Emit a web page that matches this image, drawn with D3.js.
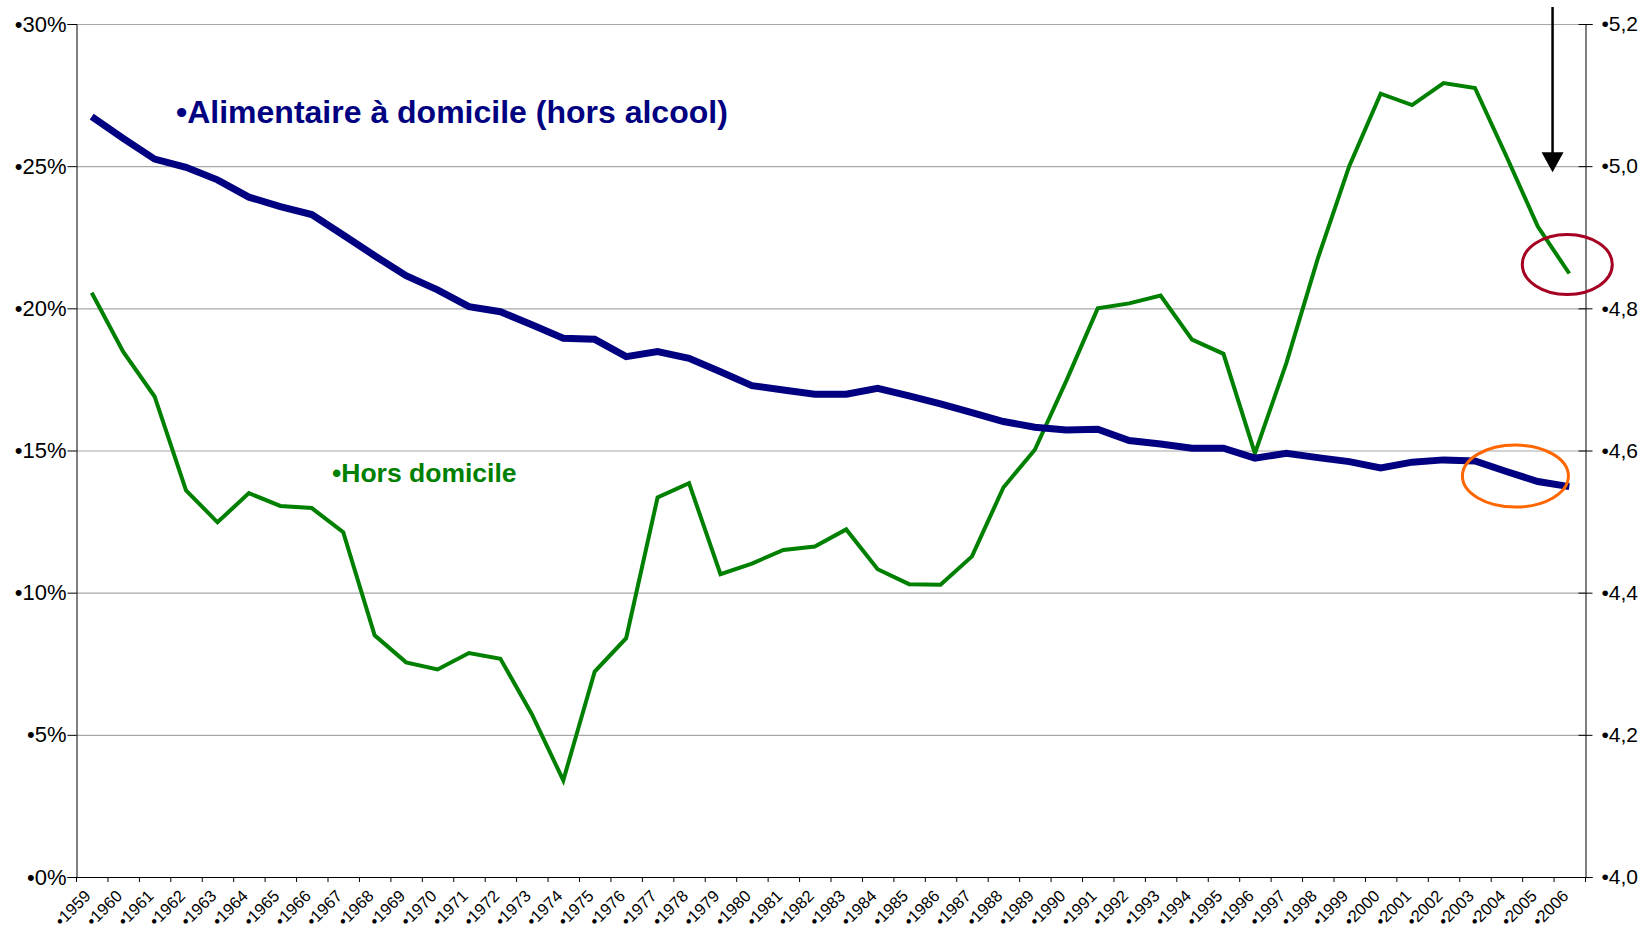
<!DOCTYPE html>
<html>
<head>
<meta charset="utf-8">
<script src="https://cdn.jsdelivr.net/npm/d3@7"></script>
<style>
    body { margin: 0; background: #fff; }
    text { font-family: "Liberation Sans", Arial, sans-serif; }
</style>
</head>
<body>
<div id="chart"></div>
<script>
// years on the x axis
const years = d3.range(1959, 2007).map(String);

// Alimentaire à domicile (hors alcool), % - left axis
const domicile = [
    26.74, 25.98, 25.25, 24.96, 24.52, 23.91, 23.58, 23.30, 22.58, 21.85,
    21.15, 20.65, 20.06, 19.88, 19.42, 18.95, 18.91, 18.30, 18.48, 18.24,
    17.77, 17.28, 17.13, 16.98, 16.98, 17.19, 16.92, 16.64, 16.33, 16.02,
    15.82, 15.72, 15.75, 15.35, 15.23, 15.08, 15.08, 14.73, 14.90, 14.75,
    14.61, 14.39, 14.59, 14.67, 14.63, 14.26, 13.91, 13.73
];

// Hors domicile - right axis
const horsDomicile = [
    4.822, 4.739, 4.676, 4.544, 4.499, 4.540, 4.522, 4.519, 4.485, 4.340,
    4.302, 4.292, 4.315, 4.307, 4.229, 4.136, 4.289, 4.336, 4.534, 4.554,
    4.426, 4.441, 4.460, 4.465, 4.489, 4.433, 4.412, 4.411, 4.451, 4.548,
    4.601, 4.698, 4.800, 4.807, 4.818, 4.756, 4.736, 4.596, 4.723, 4.870,
    5.000, 5.102, 5.086, 5.117, 5.110, 5.014, 4.915, 4.849
];

const leftTicks = [0, 5, 10, 15, 20, 25, 30];
const rightTicks = [4.0, 4.2, 4.4, 4.6, 4.8, 5.0, 5.2];

const width = 1646,
    height = 931,
    plotLeft = 76,
    plotRight = 1585,
    plotTop = 24,
    plotBottom = 877;

const svg = d3.select("#chart").append("svg")
    .attr("width", width)
    .attr("height", height);

const x = d3.scaleBand().domain(years).range([plotLeft, plotRight]);
const yL = d3.scaleLinear().domain([0, 30]).range([plotBottom, plotTop]);
const yR = d3.scaleLinear().domain([4.0, 5.2]).range([plotBottom, plotTop]);
const cx = d => x(d) + x.bandwidth() / 2;

// gridlines
svg.append("g")
    .selectAll("line")
    .data(leftTicks.filter(t => t > 0))
    .enter()
    .append("line")
    .attr("x1", plotLeft)
    .attr("x2", plotRight)
    .attr("y1", d => yL(d) + 0.5)
    .attr("y2", d => yL(d) + 0.5)
    .attr("stroke", "#a8a8a8")
    .attr("stroke-width", 1.2);

// left axis
const axL = svg.append("g")
    .attr("transform", `translate(${plotLeft + 0.5},0)`)
    .call(d3.axisLeft(yL).tickValues(leftTicks).tickSize(9).tickPadding(1)
        .tickFormat(d => "•" + d + "%"));
axL.selectAll("text").attr("font-size", 22).attr("fill", "#000");

// right axis
const axR = svg.append("g")
    .attr("transform", `translate(${plotRight + 0.5},0)`)
    .call(d3.axisRight(yR).tickValues(rightTicks).tickSize(7).tickPadding(9)
        .tickFormat(d => "•" + d3.format(".1f")(d).replace(".", ",")));
axR.selectAll(".tick line").attr("x1", -7);
axR.selectAll("text").attr("font-size", 21).attr("fill", "#000");

[axL, axR].forEach(a => {
    a.select(".domain").attr("stroke", "#000");
    a.selectAll(".tick line").attr("stroke", "#000");
});

// bottom axis, ticks between categories
const xAxis = svg.append("g");
xAxis.append("line")
    .attr("x1", plotLeft)
    .attr("x2", plotRight + 1)
    .attr("y1", plotBottom + 0.5)
    .attr("y2", plotBottom + 0.5)
    .attr("stroke", "#000");
xAxis.selectAll(".btick")
    .data(years.map(d => x(d)).concat([plotRight]))
    .enter()
    .append("line")
    .attr("class", "btick")
    .attr("x1", d => d + 0.5)
    .attr("x2", d => d + 0.5)
    .attr("y1", plotBottom)
    .attr("y2", plotBottom + 5)
    .attr("stroke", "#000");
xAxis.selectAll("text")
    .data(years)
    .enter()
    .append("text")
    .attr("transform", d => `translate(${cx(d) - 4},${plotBottom + 16}) rotate(-45)`)
    .attr("text-anchor", "end")
    .attr("dy", "0.35em")
    .attr("font-size", 16.5)
    .text(d => "•" + d);

// series
const lineL = d3.line().x((d, i) => cx(years[i])).y(d => yL(d));
const lineR = d3.line().x((d, i) => cx(years[i])).y(d => yR(d));

svg.append("path")
    .datum(horsDomicile)
    .attr("d", lineR)
    .attr("fill", "none")
    .attr("stroke", "#008000")
    .attr("stroke-width", 4);

svg.append("path")
    .datum(domicile)
    .attr("d", lineL)
    .attr("fill", "none")
    .attr("stroke", "#000080")
    .attr("stroke-width", 7);

// labels
svg.append("text")
    .attr("x", 176)
    .attr("y", 123)
    .attr("font-size", 32)
    .attr("font-weight", "bold")
    .attr("fill", "#000080")
    .text("•Alimentaire à domicile (hors alcool)");

svg.append("text")
    .attr("x", 332)
    .attr("y", 482)
    .attr("font-size", 26.5)
    .attr("font-weight", "bold")
    .attr("fill", "#008000")
    .text("•Hors domicile");

// annotations
const last = years[years.length - 1];
svg.append("ellipse")
    .attr("cx", cx(last) - 2)
    .attr("cy", yR(horsDomicile[horsDomicile.length - 1]) - 9)
    .attr("rx", 45)
    .attr("ry", 30)
    .attr("fill", "none")
    .attr("stroke", "#a50021")
    .attr("stroke-width", 3);

svg.append("ellipse")
    .attr("cx", cx("2004") + 9)
    .attr("cy", yL(14.1))
    .attr("rx", 53)
    .attr("ry", 31)
    .attr("fill", "none")
    .attr("stroke", "#ff6600")
    .attr("stroke-width", 3);

const ax = x(last) - 1,
    tip = yR(5.0) + 6;
svg.append("line")
    .attr("x1", ax)
    .attr("x2", ax)
    .attr("y1", 7)
    .attr("y2", tip - 16)
    .attr("stroke", "#000")
    .attr("stroke-width", 2.5);
svg.append("path")
    .attr("d", `M${ax - 11},${tip - 20}L${ax + 11},${tip - 20}L${ax},${tip}Z`)
    .attr("fill", "#000");
</script>
</body>
</html>
